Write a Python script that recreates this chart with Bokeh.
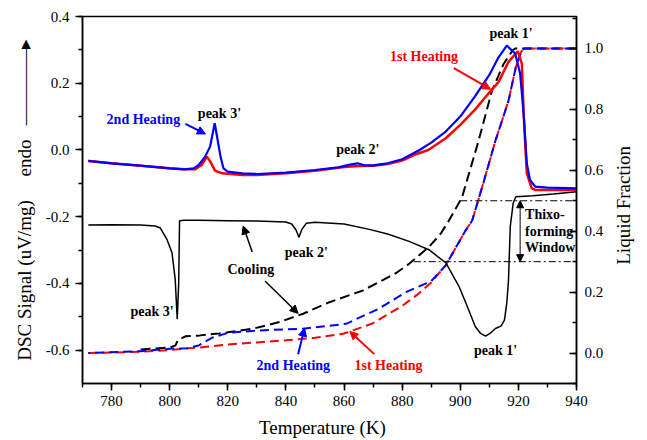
import math
from bokeh.plotting import figure
from bokeh.models import (Range1d, LinearAxis, SingleIntervalTicker, PrintfTickFormatter,
                          Label, Arrow, NormalHead)
from bokeh.embed import file_html
from bokeh.resources import INLINE

# ---------------- data ----------------
# DSC signal, 1st heating (red)
heat1_T = [772, 780, 790, 800, 805, 808.8, 811, 812.8, 814, 815.6, 818, 825, 830, 840, 850, 860,
           865, 870, 875, 880, 885, 889, 895, 900, 905, 910, 913.2, 916.6, 919.8, 921.2, 921.8,
           922.9, 924.6, 926, 940]
heat1_dsc = [-0.033, -0.040, -0.047, -0.055, -0.058, -0.058, -0.045, -0.020, -0.035, -0.062, -0.070,
             -0.075, -0.075, -0.070, -0.062, -0.051, -0.048, -0.047, -0.042, -0.032, -0.012, 0.000,
             0.035, 0.075, 0.120, 0.172, 0.204, 0.264, 0.296, 0.258, 0.110, -0.070, -0.115, -0.120, -0.120]

# DSC signal, 2nd heating (blue)
heat2_T = [772, 780, 790, 800, 805, 808.2, 810, 812.2, 813.9, 815.5, 816.5, 817.5, 818.5, 820, 825,
           830, 840, 850, 858, 862, 864.7, 867, 870, 875, 880, 886, 890, 895, 900, 905, 910, 913,
           916, 918.9, 920.6, 921.8, 922.9, 924, 925.8, 930, 940]
heat2_dsc = [-0.033, -0.040, -0.047, -0.055, -0.058, -0.055, -0.045, -0.020, 0.010, 0.080, 0.030,
             -0.020, -0.055, -0.065, -0.070, -0.072, -0.068, -0.060, -0.052, -0.044, -0.040, -0.046,
             -0.046, -0.040, -0.028, 0.000, 0.022, 0.055, 0.100, 0.160, 0.225, 0.275, 0.313, 0.289,
             0.229, 0.110, -0.040, -0.090, -0.110, -0.113, -0.115]

# DSC signal, cooling (black)
cool_T = [772, 780, 790, 795, 796.8, 799.1, 800.8, 801.9, 802.6, 803.1, 803.4, 805, 810, 820, 830,
          840, 842, 843.5, 844.5, 845.5, 847, 850, 860, 868.7, 875, 882.4, 889.2, 895, 899.5, 902,
          905.2, 907, 908.7, 910.5, 912.1, 914, 915.2, 916.0, 916.6, 917.2, 918.2, 919.1, 925, 932, 940]
cool_dsc = [-0.225, -0.224, -0.225, -0.228, -0.234, -0.269, -0.308, -0.388, -0.507, -0.400, -0.212,
            -0.211, -0.211, -0.212, -0.213, -0.216, -0.222, -0.240, -0.262, -0.238, -0.220, -0.217,
            -0.222, -0.238, -0.252, -0.274, -0.299, -0.338, -0.408, -0.460, -0.530, -0.550, -0.558,
            -0.548, -0.535, -0.528, -0.510, -0.460, -0.390, -0.230, -0.160, -0.140, -0.137, -0.132, -0.125]

# Liquid fraction, 1st heating (red dashed)
lf1_T = [772, 790, 800, 810, 820, 830, 840, 850, 860, 870, 880, 885, 890, 895, 901.8, 904.1, 908,
         912.1, 916.6, 919.1, 921, 922, 940]
lf1 = [0.000, 0.004, 0.010, 0.018, 0.028, 0.035, 0.042, 0.050, 0.064, 0.098, 0.155, 0.190, 0.232,
       0.288, 0.402, 0.435, 0.560, 0.697, 0.828, 0.938, 0.990, 1.000, 1.000]

# Liquid fraction, 2nd heating (blue dashed)
lf2_T = [772, 790, 800, 806, 810, 814.5, 820, 830, 845.9, 860.7, 872.1, 881.3, 890, 895, 901.8,
         904.1, 908, 912.1, 916.6, 919.1, 921, 922, 940]
lf2 = [0.000, 0.006, 0.014, 0.016, 0.025, 0.050, 0.066, 0.074, 0.080, 0.096, 0.146, 0.200, 0.236,
       0.288, 0.402, 0.435, 0.560, 0.697, 0.828, 0.938, 0.990, 1.000, 1.000]

# Liquid fraction, cooling (black dashed)
lfc_T = [790, 800, 802, 802.8, 805.4, 810.5, 817, 820, 828.7, 837.9, 845.9, 855, 866.4, 877.8,
         882.4, 889.2, 893.2, 896.1, 900.6, 906.3, 910.9, 914.9, 918.1, 919, 940]
lfc = [0.012, 0.018, 0.025, 0.042, 0.055, 0.058, 0.064, 0.068, 0.080, 0.102, 0.129, 0.167, 0.205,
       0.262, 0.293, 0.348, 0.391, 0.435, 0.511, 0.697, 0.861, 0.949, 0.995, 1.000, 1.000]

# Thixoforming window limits (liquid fraction) and where the guide lines start
window_lf = [0.5, 0.3]
window_start = [900, 884]
window_end = [940, 940]

# ---------------- figure ----------------
FONT = "Liberation Serif"
NB = "\u00a0"
p = figure(width=647, height=440, output_backend="svg", toolbar_location=None,
           x_range=Range1d(770, 940), y_range=Range1d(-0.7, 0.4),
           min_border_left=82, min_border_right=69, min_border_top=16, min_border_bottom=57)
p.extra_y_ranges = {"lf": Range1d(-0.1, 1.105)}
p.xgrid.visible = False
p.ygrid.visible = False
p.outline_line_color = "black"
p.outline_line_width = 1.5
p.background_fill_color = "white"
p.border_fill_color = "white"


def style_axis(ax, tin, tout, standoff):
    ax.axis_line_color = "black"
    ax.axis_line_width = 1.5
    ax.major_tick_line_color = "black"
    ax.minor_tick_line_color = "black"
    ax.major_tick_line_width = 1.5
    ax.minor_tick_line_width = 1.5
    ax.major_tick_in = tin
    ax.major_tick_out = tout
    ax.minor_tick_in = 4 if tin else 0
    ax.minor_tick_out = 4 if tout else 0
    ax.major_label_text_font = FONT
    ax.major_label_text_font_size = "15px"
    ax.major_label_text_color = "black"
    ax.major_label_standoff = standoff
    ax.axis_label_text_font = FONT
    ax.axis_label_text_font_size = "19px"
    ax.axis_label_text_font_style = "normal"
    ax.axis_label_text_color = "black"


xa = p.xaxis[0]
xa.ticker = SingleIntervalTicker(interval=20, num_minor_ticks=2)
style_axis(xa, 0, 7, 5)
xa.axis_label = "Temperature (K)" + NB * 3
xa.axis_label_standoff = 8

ya = p.yaxis[0]
ya.ticker = SingleIntervalTicker(interval=0.2, num_minor_ticks=2)
style_axis(ya, 0, 7, 6)
ya.formatter = PrintfTickFormatter(format="%.1f")
# the "endo" marker and its arrow sit in the same column as the axis title
ya.axis_label = "DSC Signal (uV/mg)" + NB * 5 + "endo" + NB * 3 + "\u2014\u2014\u2014\u2014\u25B8"
ya.axis_label_standoff = 8

ry = LinearAxis(y_range_name="lf", ticker=SingleIntervalTicker(interval=0.2, num_minor_ticks=2))
p.add_layout(ry, "right")
style_axis(ry, 7, 0, 8)
ry.formatter = PrintfTickFormatter(format="%.1f")
ry.axis_label_orientation = math.pi / 2   # read bottom-to-top, like the reference
ry.axis_label_standoff = 17
if "axis_label_align" in ry.properties():
    ry.axis_label_align = "start"
    ry.axis_label = NB * 25 + "Liquid Fraction"
else:
    ry.axis_label = "Liquid Fraction"

RED = "#ff0000"
BLUE = "#0000ff"
BLACK = "#000000"

# liquid fraction (dashed)
p.line(lfc_T, lfc, y_range_name="lf", line_color=BLACK, line_width=2, line_dash="10 5")
p.line(lf1_T, lf1, y_range_name="lf", line_color=RED, line_width=2, line_dash="9 5")
p.line(lf2_T, lf2, y_range_name="lf", line_color=BLUE, line_width=2, line_dash="9 5",
       line_dash_offset=7)

# thixoforming window guide lines
for s, e, v in zip(window_start, window_end, window_lf):
    p.line([s, e], [v, v], y_range_name="lf", line_color=BLACK, line_width=1, line_dash="7 3 2 3")

# DSC curves
p.line(cool_T, cool_dsc, line_color=BLACK, line_width=1.5)
p.line(heat1_T, heat1_dsc, line_color=RED, line_width=2.5)
p.line(heat2_T, heat2_dsc, line_color=BLUE, line_width=2.2)


# ---------------- annotations ----------------
def lab(x, y, text, color=BLACK, size="14px", bold=True, align="left"):
    p.add_layout(Label(x=x, y=y, text=text, text_font=FONT, text_font_size=size,
                       text_font_style="bold" if bold else "normal", text_color=color,
                       text_align=align, text_baseline="middle"))


def arr(x0, y0, x1, y1, color=BLACK, both=False, yr=None, size=8, lw=1.5):
    kw = dict(end=NormalHead(size=size, fill_color=color, line_color=color),
              x_start=x0, y_start=y0, x_end=x1, y_end=y1, line_color=color, line_width=lw)
    if both:
        kw["start"] = NormalHead(size=size, fill_color=color, line_color=color)
    if yr:
        kw["y_range_name"] = yr
    p.add_layout(Arrow(**kw))


lab(917.5, 0.349, "peak 1'", align="center")
lab(875.8, 0.279, "1st Heating", RED)
arr(897.8, 0.245, 910.4, 0.182, RED, lw=2)
lab(778.3, 0.090, "2nd Heating", BLUE)
arr(805.4, 0.078, 812.3, 0.048, BLUE, lw=2)
lab(809.7, 0.110, "peak 3'")
lab(857.3, 0.000, "peak 2'")

lab(839.6, -0.308, "peak 2'")
lab(819.9, -0.358, "Cooling")
arr(828.4, -0.306, 825.3, -0.228)
arr(832.8, -0.393, 844.2, -0.490)
lab(786.5, -0.483, "peak 3'")
lab(904.7, -0.602, "peak 1'")
lab(829.9, -0.647, "2nd Heating", BLUE)
arr(844.2, -0.612, 846.4, -0.534, BLUE, lw=2)
lab(863.6, -0.647, "1st Heating", RED)
arr(870.4, -0.612, 862.0, -0.544, RED, lw=2)

lab(922.3, -0.194, "Thixo-")
lab(922.3, -0.244, "forming")
lab(922.3, -0.293, "Window")
arr(920.6, window_lf[1], 920.6, window_lf[0], both=True, yr="lf", size=7, lw=1)

open("out.html", "w").write(file_html(p, INLINE))
